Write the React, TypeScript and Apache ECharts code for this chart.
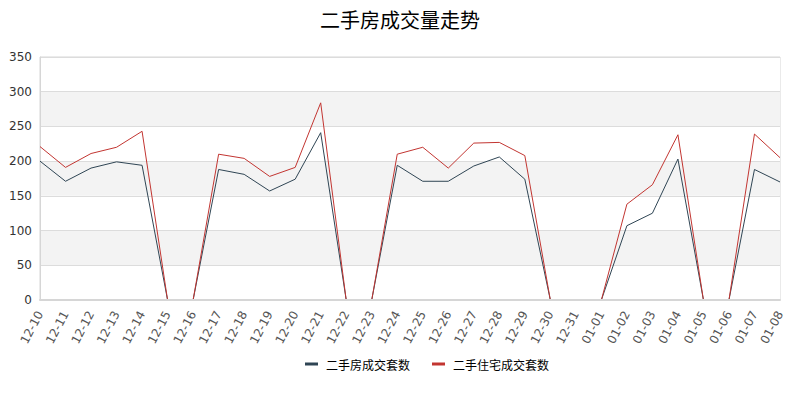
import React, { useEffect, useRef } from "react";
import * as echarts from "echarts";

const categories = [
  "12-10", "12-11", "12-12", "12-13", "12-14", "12-15", "12-16", "12-17", "12-18", "12-19",
  "12-20", "12-21", "12-22", "12-23", "12-24", "12-25", "12-26", "12-27", "12-28", "12-29",
  "12-30", "12-31", "01-01", "01-02", "01-03", "01-04", "01-05", "01-06", "01-07", "01-08",
];

const secondHandTotal = [
  200, 171, 190, 199, 194, 0, 0, 188, 181, 157,
  174, 241, 0, 0, 194, 171, 171, 193, 206, 174,
  0, 0, 0, 107, 125, 203, 0, 0, 188, 170,
];

const secondHandResidential = [
  221, 191, 211, 220, 243, 0, 0, 210, 204, 178,
  191, 284, 0, 0, 210, 220, 190, 226, 227, 208,
  0, 0, 0, 138, 166, 238, 0, 0, 239, 205,
];

const seriesNames = ["二手房成交套数", "二手住宅成交套数"];
const titleText = "二手房成交量走势";

export default function App() {
  const ref = useRef<HTMLDivElement>(null);
  useEffect(() => {
    if (!ref.current) return;
    const chart = echarts.init(ref.current, null, { renderer: "svg" });
    chart.setOption({
      animation: false,
      color: ["#2f4554", "#c23531"],
      title: {
        text: titleText,
        left: "center",
        top: 4,
        textStyle: { fontSize: 20, fontWeight: "normal", color: "#000", fontFamily: "Noto Sans CJK SC" },
      },
      legend: {
        data: seriesNames,
        top: 353,
        left: 300,
        icon: "rect",
        itemWidth: 13,
        itemHeight: 3,
        itemGap: 22,
        textStyle: { fontSize: 12, color: "#000", fontFamily: "Noto Sans CJK SC", padding: [0, 0, 0, 3] },
      },
      grid: {
        left: 40,
        right: 20,
        top: 57,
        bottom: 100,
        outerBoundsMode: "none",
        containLabel: false,
        show: true,
        borderColor: "#d6d6d6",
        borderWidth: 1,
      },
      xAxis: {
        type: "category",
        data: categories,
        boundaryGap: false,
        z: 5,
        axisLine: { lineStyle: { color: "#d6d6d6", width: 2 } },
        axisTick: { show: false },
        axisLabel: {
          rotate: 62,
          interval: 0,
          color: "#555",
          fontSize: 12,
          margin: 12,
          fontFamily: "DejaVu Sans",
        },
      },
      yAxis: {
        type: "value",
        min: 0,
        max: 350,
        interval: 50,
        axisLine: { show: true, lineStyle: { color: "#d6d6d6" } },
        axisTick: { show: false },
        axisLabel: { color: "#333", fontSize: 12, fontFamily: "DejaVu Sans" },
        splitLine: { lineStyle: { color: "#dcdcdc" } },
        splitArea: { show: true, areaStyle: { color: ["#ffffff", "#f3f3f3"] } },
      },
      series: [
        {
          name: seriesNames[0],
          type: "line",
          data: secondHandTotal,
          showSymbol: false,
          symbol: "none",
          lineStyle: { width: 1 },
        },
        {
          name: seriesNames[1],
          type: "line",
          data: secondHandResidential,
          showSymbol: false,
          symbol: "none",
          lineStyle: { width: 1 },
        },
      ],
    });
    return () => chart.dispose();
  }, []);
  return (
    <div
      ref={ref}
      style={{ position: "absolute", left: 0, top: 0, width: 800, height: 400 }}
    />
  );
}
